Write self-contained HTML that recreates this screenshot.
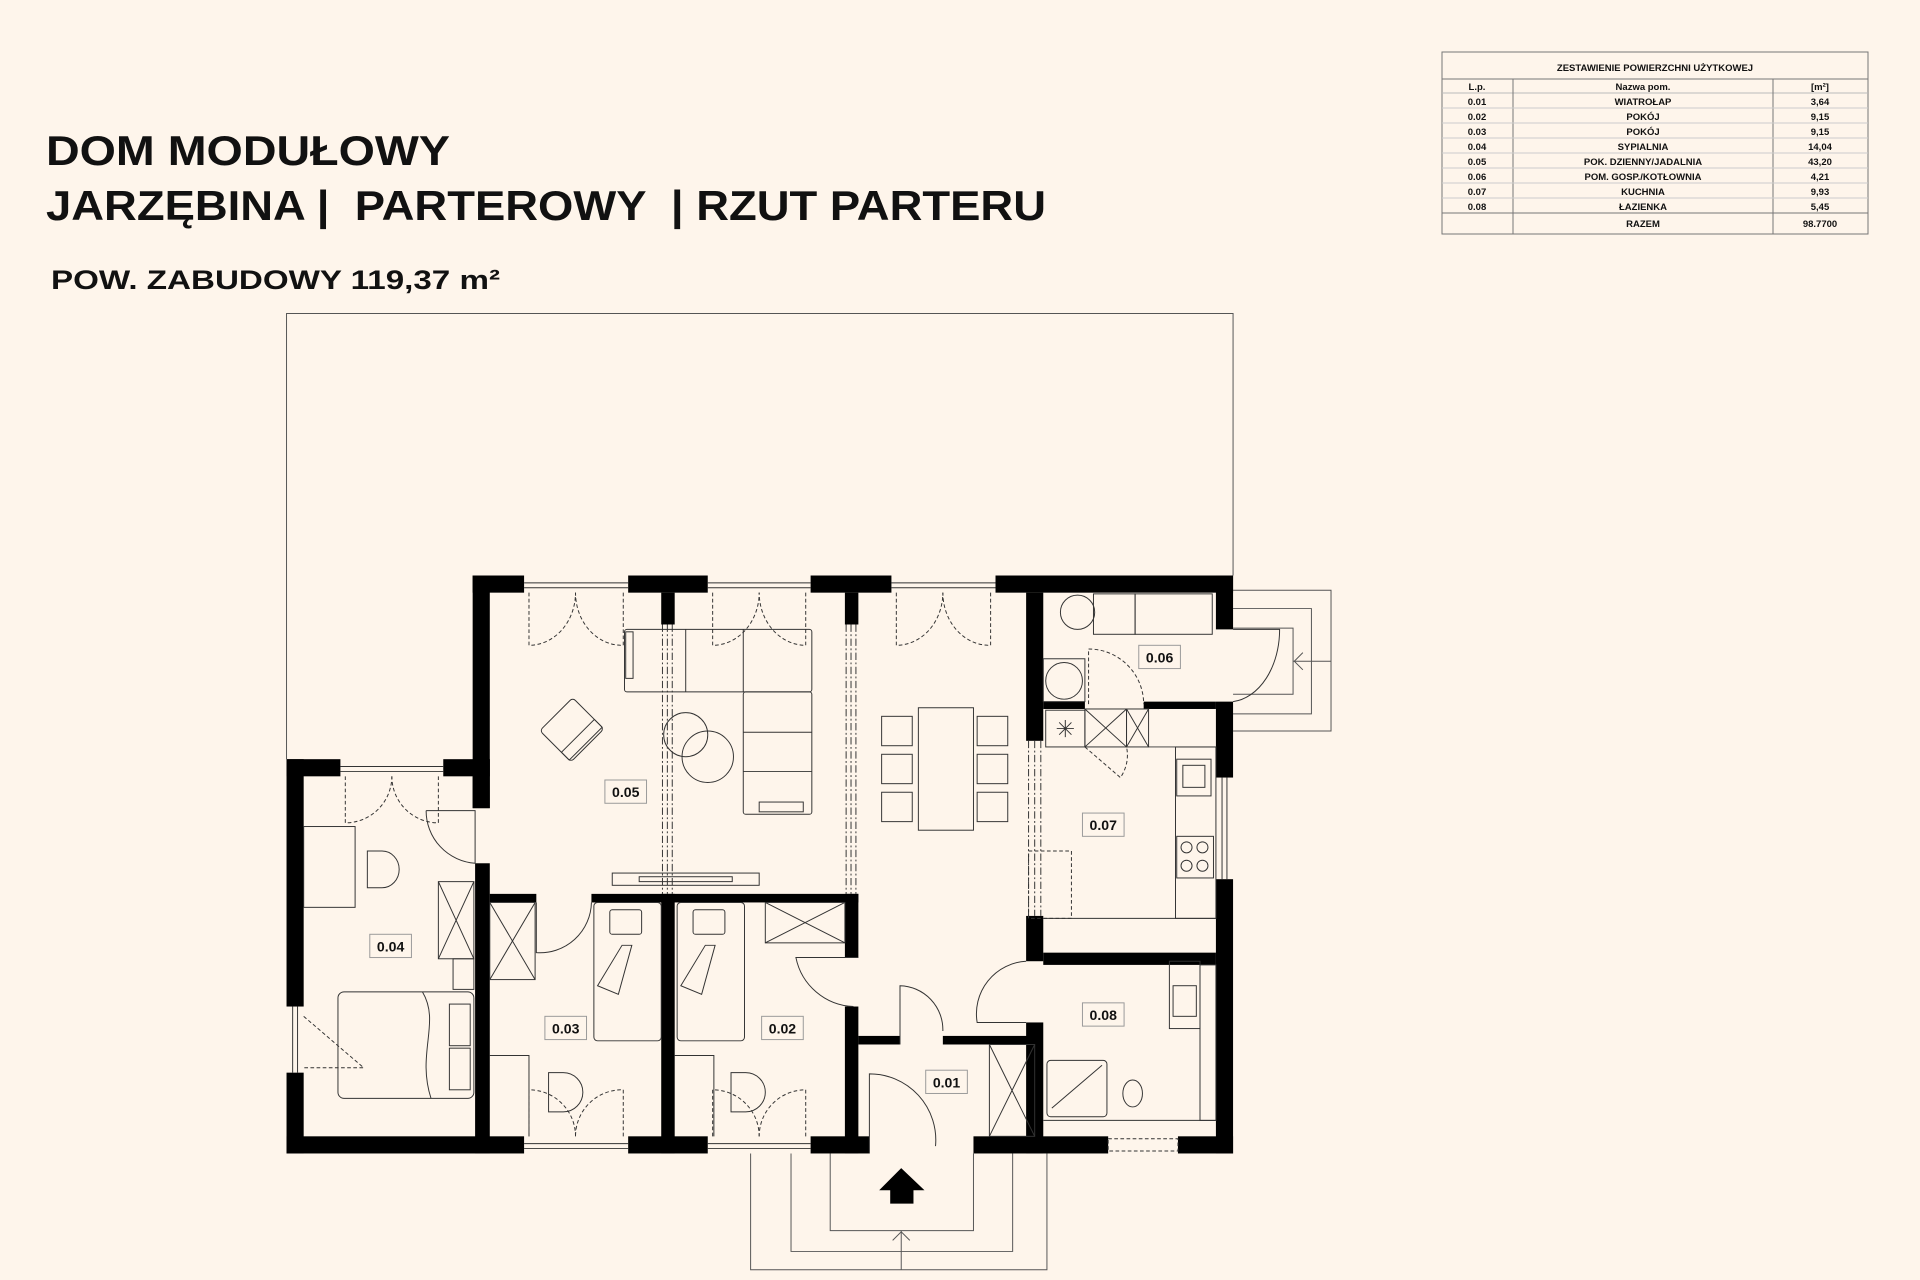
<!DOCTYPE html>
<html><head><meta charset="utf-8"><style>
html,body{margin:0;padding:0;background:#fef5eb;overflow:hidden}
svg{display:block}
text{font-family:"Liberation Sans",sans-serif;fill:#111}
</style></head><body>
<svg width="1920" height="1280" viewBox="0 0 1920 1280" xmlns="http://www.w3.org/2000/svg">
<rect width="1920" height="1280" fill="#fef5eb"/>
<text x="46" y="165" font-size="42" font-weight="bold" textLength="404" lengthAdjust="spacingAndGlyphs">DOM MODUŁOWY</text>
<text x="46" y="220" font-size="42" font-weight="bold" textLength="1000" lengthAdjust="spacingAndGlyphs" xml:space="preserve">JARZĘBINA |  PARTEROWY  | RZUT PARTERU</text>
<text x="51" y="289" font-size="27" font-weight="bold" textLength="449" lengthAdjust="spacingAndGlyphs">POW. ZABUDOWY 119,37 m²</text>

<g stroke="#777" stroke-width="1" fill="none">
<rect x="1442" y="52" width="426" height="182"/>
<line x1="1442" y1="79" x2="1868" y2="79"/>
<line x1="1442" y1="93" x2="1868" y2="93" stroke="#bbb"/>
<line x1="1442" y1="213" x2="1868" y2="213"/>
<line x1="1513" y1="79" x2="1513" y2="234"/>
<line x1="1773" y1="79" x2="1773" y2="234"/>
<g stroke="#ccc"><line x1="1442" y1="108" x2="1868" y2="108"/><line x1="1442" y1="123" x2="1868" y2="123"/><line x1="1442" y1="138" x2="1868" y2="138"/><line x1="1442" y1="153" x2="1868" y2="153"/><line x1="1442" y1="168" x2="1868" y2="168"/><line x1="1442" y1="183" x2="1868" y2="183"/><line x1="1442" y1="198" x2="1868" y2="198"/></g>
</g>
<g font-size="9.5" font-weight="bold" text-anchor="middle">
<text x="1655" y="71">ZESTAWIENIE POWIERZCHNI UŻYTKOWEJ</text>
<text x="1477" y="90">L.p.</text><text x="1643" y="90">Nazwa pom.</text><text x="1820" y="90">[m²]</text>
<text x="1477" y="105">0.01</text><text x="1643" y="105">WIATROŁAP</text><text x="1820" y="105">3,64</text>
<text x="1477" y="120">0.02</text><text x="1643" y="120">POKÓJ</text><text x="1820" y="120">9,15</text>
<text x="1477" y="135">0.03</text><text x="1643" y="135">POKÓJ</text><text x="1820" y="135">9,15</text>
<text x="1477" y="150">0.04</text><text x="1643" y="150">SYPIALNIA</text><text x="1820" y="150">14,04</text>
<text x="1477" y="165">0.05</text><text x="1643" y="165">POK. DZIENNY/JADALNIA</text><text x="1820" y="165">43,20</text>
<text x="1477" y="180">0.06</text><text x="1643" y="180">POM. GOSP./KOTŁOWNIA</text><text x="1820" y="180">4,21</text>
<text x="1477" y="195">0.07</text><text x="1643" y="195">KUCHNIA</text><text x="1820" y="195">9,93</text>
<text x="1477" y="210">0.08</text><text x="1643" y="210">ŁAZIENKA</text><text x="1820" y="210">5,45</text>
<text x="1643" y="227">RAZEM</text><text x="1820" y="227">98.7700</text>
</g>

<g transform="scale(1.22449)">
<g stroke="#555" stroke-width="0.8" fill="none">
<polyline points="234,620 234,256 1007,256 1007,470"/>
<polyline points="1007,482 1087,482 1087,597 1007,597"/>
<polyline points="1007,497 1071,497 1071,583 1007,583"/>
<polyline points="1007,513 1056,513 1056,567 1007,567"/>
<line x1="1056" y1="540" x2="1087" y2="540"/>
<polyline points="1064,533 1057,540 1064,547"/>
<polyline points="613,942 613,1037 855,1037 855,942"/>
<polyline points="646,942 646,1022 827,1022 827,942"/>
<polyline points="678,942 678,1005 795,1005 795,942"/>
<line x1="736" y1="1005" x2="736" y2="1037"/>
<polyline points="729,1013 736,1006 743,1013"/>
</g>
<polygon points="736,954 755,972 746,972 746,983 727,983 727,972 718,972" fill="#000"/>

<g fill="#000">
<!-- top wall -->
<rect x="386" y="470" width="42" height="14"/>
<rect x="513" y="470" width="65" height="14"/>
<rect x="662" y="470" width="66" height="14"/>
<rect x="813" y="470" width="194" height="14"/>
<!-- left upper -->
<rect x="386" y="470" width="14" height="190"/>
<rect x="388" y="705" width="12" height="237"/>
<!-- left wing top -->
<rect x="234" y="620" width="44" height="14"/>
<rect x="362" y="620" width="38" height="14"/>
<rect x="386" y="620" width="14" height="40"/>
<!-- left wall -->
<rect x="234" y="620" width="14" height="202"/>
<rect x="234" y="876" width="14" height="66"/>
<!-- bottom -->
<rect x="234" y="928" width="194" height="14"/>
<rect x="513" y="928" width="65" height="14"/>
<rect x="662" y="928" width="48" height="14"/>
<rect x="795" y="928" width="110" height="14"/>
<rect x="962" y="928" width="45" height="14"/>
<!-- right wall -->
<rect x="993" y="470" width="14" height="44"/>
<rect x="993" y="573" width="14" height="62"/>
<rect x="993" y="718" width="14" height="224"/>
<!-- stubs -->
<rect x="540" y="484" width="11" height="26"/>
<rect x="690" y="484" width="11" height="26"/>
<!-- bedroom top -->
<rect x="400" y="730" width="38" height="7"/>
<rect x="483" y="730" width="218" height="7"/>
<rect x="540" y="730" width="11" height="212"/>
<rect x="690" y="730" width="11" height="52"/>
<rect x="690" y="822" width="11" height="120"/>
<!-- 0.01 top -->
<rect x="701" y="846" width="34" height="7"/>
<rect x="770" y="846" width="75" height="7"/>
<!-- column -->
<rect x="838" y="484" width="14" height="121"/>
<rect x="838" y="748" width="14" height="37"/>
<rect x="838" y="835" width="14" height="107"/>
<!-- 0.06 bottom -->
<rect x="852" y="573" width="34" height="6"/>
<rect x="934" y="573" width="59" height="6"/>
<!-- 0.07/0.08 -->
<rect x="852" y="778" width="141" height="10"/>
</g>

<g stroke="#333" stroke-width="0.8" fill="none">
<!-- windows -->
<line x1="428" y1="476" x2="513" y2="476"/><line x1="428" y1="480" x2="513" y2="480"/>
<line x1="578" y1="476" x2="662" y2="476"/><line x1="578" y1="480" x2="662" y2="480"/>
<line x1="728" y1="476" x2="813" y2="476"/><line x1="728" y1="480" x2="813" y2="480"/>
<line x1="278" y1="626" x2="362" y2="626"/><line x1="278" y1="630" x2="362" y2="630"/>
<line x1="428" y1="934" x2="513" y2="934"/><line x1="428" y1="938" x2="513" y2="938"/>
<line x1="578" y1="934" x2="662" y2="934"/><line x1="578" y1="938" x2="662" y2="938"/>
<line x1="239" y1="822" x2="239" y2="876"/><line x1="243" y1="822" x2="243" y2="876"/>
<line x1="998" y1="635" x2="998" y2="718"/><line x1="1002" y1="635" x2="1002" y2="718"/>
<rect x="905" y="930" width="57" height="10" stroke-dasharray="3,2"/>
<g stroke-dasharray="6,2,1.5,2">
<line x1="541" y1="510" x2="541" y2="730"/><line x1="545" y1="510" x2="545" y2="730"/><line x1="549" y1="510" x2="549" y2="730"/>
<line x1="691" y1="510" x2="691" y2="730"/><line x1="695" y1="510" x2="695" y2="730"/><line x1="699" y1="510" x2="699" y2="730"/>
<line x1="840" y1="605" x2="840" y2="748"/><line x1="845" y1="605" x2="845" y2="748"/><line x1="850" y1="605" x2="850" y2="748"/>
</g>
<g stroke-dasharray="3,2">
<path d="M432,484 L432,527 A38,43 0 0 0 470,484"/><path d="M509,484 L509,527 A38,43 0 0 1 470,484"/>
<path d="M582,484 L582,527 A38,43 0 0 0 620,484"/><path d="M658,484 L658,527 A38,43 0 0 1 620,484"/>
<path d="M732,484 L732,527 A38,43 0 0 0 770,484"/><path d="M809,484 L809,527 A38,43 0 0 1 770,484"/>
<path d="M282,634 L282,672 A38,38 0 0 0 320,634"/><path d="M358,634 L358,672 A38,38 0 0 1 320,634"/>
<path d="M432,928 L432,890 A38,38 0 0 1 470,928"/><path d="M509,928 L509,890 A38,38 0 0 0 470,928"/>
<path d="M582,928 L582,890 A38,38 0 0 1 620,928"/><path d="M658,928 L658,890 A38,38 0 0 0 620,928"/>
<path d="M248,830 L297,872 L248,872"/>
<path d="M889,575 L889,530 A45,45 0 0 1 934,575"/>
<path d="M886,610 L915,635 A32,32 0 0 0 920,610"/>
<rect x="840" y="695" width="35" height="55"/>
</g>
<path d="M348,662 L388,662 L388,705 A43,43 0 0 1 348,662"/>
<path d="M438,737 L438,778 A42,42 0 0 0 483,737"/>
<path d="M701,782 L650,782 A50,50 0 0 0 697,822"/>
<path d="M735,853 L735,805 A36,36 0 0 1 770,842"/>
<path d="M838,785 L838,785 A43,43 0 0 0 798,835 L838,835"/>
<path d="M710,942 L710,877 A54,54 0 0 1 764,936"/>
<path d="M1007,514 L1045,514 A42,59 0 0 1 1007,573"/>
<!-- sofa -->
<rect x="510" y="514" width="153" height="51" rx="2"/>
<rect x="607" y="565" width="56" height="100" rx="2"/>
<line x1="560" y1="514" x2="560" y2="565"/><line x1="607" y1="514" x2="607" y2="565"/>
<line x1="607" y1="598" x2="663" y2="598"/><line x1="607" y1="630" x2="663" y2="630"/>
<rect x="620" y="655" width="36" height="8"/>
<rect x="511" y="516" width="6" height="38"/>
<circle cx="560" cy="600" r="18"/><circle cx="578" cy="618" r="21"/>
<g transform="rotate(-45 467 596)"><rect x="448" y="578" width="38" height="36" rx="3"/><rect x="448" y="603" width="38" height="9"/></g>
<rect x="500" y="713" width="120" height="10"/><rect x="522" y="716" width="76" height="4"/>
<!-- dining -->
<rect x="750" y="578" width="45" height="100"/>
<rect x="720" y="585" width="25" height="24"/><rect x="720" y="616" width="25" height="24"/><rect x="720" y="647" width="25" height="24"/>
<rect x="798" y="585" width="25" height="24"/><rect x="798" y="616" width="25" height="24"/><rect x="798" y="647" width="25" height="24"/>
<!-- 0.04 -->
<rect x="248" y="675" width="42" height="66"/>
<path d="M300,695 l12,0 a14,15 0 0 1 0,30 l-12,0 z"/>
<rect x="358" y="720" width="29" height="63"/><path d="M358,720 L387,783 M387,720 L358,783"/>
<rect x="370" y="783" width="17" height="25"/>
<rect x="276" y="810" width="111" height="87" rx="5"/>
<rect x="367" y="820" width="17" height="34"/><rect x="367" y="856" width="17" height="34"/>
<path d="M345,810 C360,835 340,860 352,897"/>
<!-- 0.03 -->
<rect x="400" y="737" width="37" height="63"/><path d="M400,737 L437,800 M437,737 L400,800"/>
<rect x="485" y="737" width="55" height="113" rx="3"/><rect x="498" y="743" width="26" height="20" rx="2"/>
<path d="M488,805 L508,772 L516,772 L505,812 Z"/>
<rect x="553" y="737" width="55" height="113" rx="3"/><rect x="566" y="743" width="26" height="20" rx="2"/>
<path d="M556,805 L576,772 L584,772 L573,812 Z"/>
<rect x="625" y="737" width="65" height="33"/><path d="M625,737 L690,770 M690,737 L625,770"/>
<polyline points="400,862 432,862 432,928"/><polyline points="551,862 583,862 583,928"/>
<path d="M448,876 l12,0 a16,16 0 0 1 0,32 l-12,0 z"/>
<path d="M597,876 l12,0 a16,16 0 0 1 0,32 l-12,0 z"/>
<rect x="808" y="853" width="37" height="75"/><path d="M808,853 L845,928 M845,853 L808,928"/>
<!-- 0.06 -->
<circle cx="880" cy="500" r="14"/>
<rect x="893" y="485" width="34" height="33"/><rect x="927" y="485" width="63" height="33"/>
<rect x="852" y="538" width="34" height="35"/><circle cx="869" cy="556" r="15"/>
<!-- 0.07 -->
<rect x="854" y="580" width="32" height="30"/>
<rect x="886" y="579" width="34" height="31"/><path d="M886,579 L920,610 M920,579 L886,610"/>
<rect x="920" y="579" width="18" height="31"/><path d="M920,579 L938,610 M938,579 L920,610"/>
<line x1="938" y1="610" x2="993" y2="610"/>
<path d="M863,595 l14,0 M870,588 l0,14 M865,590 l10,10 M875,590 l-10,10"/>
<rect x="960" y="610" width="33" height="140"/>
<rect x="961" y="620" width="28" height="30"/><rect x="966" y="625" width="18" height="18"/>
<rect x="961" y="683" width="30" height="34"/>
<circle cx="969" cy="692" r="4.5"/><circle cx="982" cy="692" r="4.5"/><circle cx="969" cy="707" r="4.5"/><circle cx="982" cy="707" r="4.5"/>
<line x1="852" y1="750" x2="993" y2="750"/>
<!-- 0.08 -->
<rect x="855" y="866" width="49" height="46" rx="3"/><line x1="859" y1="905" x2="900" y2="870"/>
<rect x="955" y="785" width="25" height="55"/><rect x="958" y="805" width="19" height="25"/>
<rect x="980" y="788" width="13" height="127"/>
<ellipse cx="925" cy="893" rx="8" ry="11"/>
<line x1="852" y1="915" x2="993" y2="915"/>
</g>

<g font-size="11.5" font-weight="bold" text-anchor="middle">
<g fill="#fef5eb" stroke="#999" stroke-width="0.8">
<rect x="494" y="637" width="34" height="19"/><rect x="302" y="763" width="34" height="19"/>
<rect x="445" y="830" width="34" height="19"/><rect x="622" y="830" width="34" height="19"/>
<rect x="756" y="874" width="34" height="19"/><rect x="884" y="664" width="34" height="19"/>
<rect x="930" y="527" width="34" height="19"/><rect x="884" y="819" width="34" height="19"/>
</g>
<text x="511" y="651">0.05</text><text x="319" y="777">0.04</text>
<text x="462" y="844">0.03</text><text x="639" y="844">0.02</text>
<text x="773" y="888">0.01</text><text x="901" y="678">0.07</text>
<text x="947" y="541">0.06</text><text x="901" y="833">0.08</text>
</g>
</g>
</svg>
</body></html>
